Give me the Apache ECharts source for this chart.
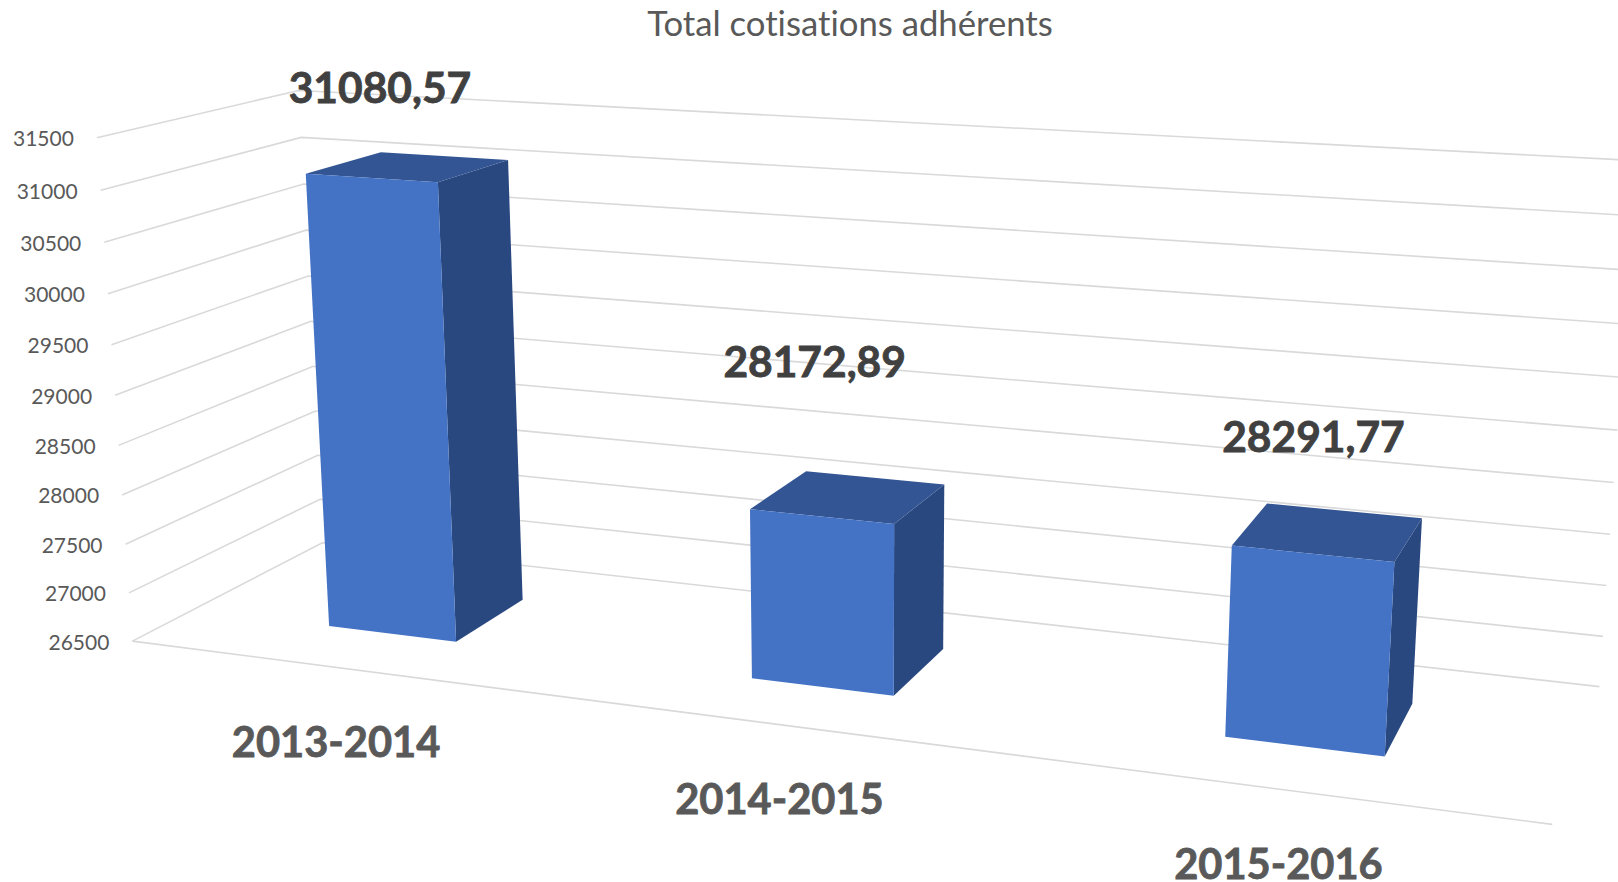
<!DOCTYPE html>
<html>
<head>
<meta charset="utf-8">
<style>html,body{margin:0;padding:0;background:#fff}#chart{width:1618px;height:882px;font-variant-ligatures:none}#chart text{font-variant-ligatures:none}</style>
<script src="https://cdn.jsdelivr.net/npm/echarts@6/dist/echarts.min.js"></script>
</head>
<body>
<div id="chart"></div>
<script>
// ---- data ----
const titleText = 'Total cotisations adhérents';
const categories = ['2013-2014', '2014-2015', '2015-2016'];
const values = [31080.57, 28172.89, 28291.77];
const axisTicks = [26500, 27000, 27500, 28000, 28500, 29000, 29500, 30000, 30500, 31000, 31500];

// ---- layout: a perspective camera applied after the axes' own scales ----
const camera = [
  [1167.19137, 227.83991, -39.94868, 132.39979],
  [49.07743, -34.42313, -509.73908, 641.10373],
  [-0.16277, 0.11777, -0.04588, 1]
];
const barWidthShare = 0.312;
const barDepth = [0.30, 0.70];
const labelOffsets = [[-28.5, -80], [-34, -136], [-15, -96]];
const categoryLabelDrop = 73.5;
const tickLabelGap = 23;
const fontFamily = 'Lato, "Open Sans", sans-serif';
const colors = {front: '#4472C4', top: '#335593', side: '#2A4880', grid: '#D9D9D9',
                tick: '#595959', cat: '#595959', value: '#404040'};
const chartSize = {w: 1618, h: 882};

function project(u, d, h) {
  const c = camera;
  const w = c[2][0] * u + c[2][1] * d + c[2][2] * h + c[2][3];
  return [(c[0][0] * u + c[0][1] * d + c[0][2] * h + c[0][3]) / w,
          (c[1][0] * u + c[1][1] * d + c[1][2] * h + c[1][3]) / w];
}
// axis scales -> unit cube
function unit(api, cat, val) {
  const p = api.coord([cat, val]);
  return [p[0] / chartSize.w, 1 - p[1] / chartSize.h];
}

function renderGrid(params, api) {
  const tick = api.value(1);
  const h = unit(api, 0, tick)[1];
  const front = project(0, 0, h), back = project(0, 1, h), right = project(1, 1, h);
  const lineStyle = {stroke: colors.grid, lineWidth: 1.6, fill: null};
  const kids = [{
    type: 'polyline', shape: {points: [front, back, right]}, style: lineStyle
  }, {
    type: 'text',
    style: {text: String(tick), x: front[0] - tickLabelGap, y: front[1],
      align: 'right', verticalAlign: 'middle', fill: colors.tick,
      font: '21px ' + fontFamily}
  }];
  if (params.dataIndex === 0) {
    kids.push({type: 'polyline', shape: {points: [front, project(1, 0, h)]}, style: lineStyle});
  }
  return {type: 'group', children: kids};
}

function renderBars(params, api) {
  const i = params.dataIndex;
  const val = api.value(1);
  const base = unit(api, i, axisTicks[0]);
  const top = unit(api, i, val);
  const half = api.size([1, 0])[0] / chartSize.w * barWidthShare / 2;
  const u0 = base[0] - half, u1 = base[0] + half;
  const d0 = barDepth[0], d1 = barDepth[1], z0 = base[1], z1 = top[1];
  const anchor = project(base[0], 0.5, z1);
  const floorPoint = project(base[0], 0, z0);
  return {type: 'group', children: [
    {type: 'polygon', shape: {points: [project(u1, d0, z0), project(u1, d1, z0), project(u1, d1, z1), project(u1, d0, z1)]},
      style: {fill: colors.side}},
    {type: 'polygon', shape: {points: [project(u0, d0, z1), project(u1, d0, z1), project(u1, d1, z1), project(u0, d1, z1)]},
      style: {fill: colors.top}},
    {type: 'polygon', shape: {points: [project(u0, d0, z0), project(u1, d0, z0), project(u1, d0, z1), project(u0, d0, z1)]},
      style: {fill: colors.front}},
    {type: 'text', style: {text: String(val).replace('.', ','),
      x: anchor[0] + labelOffsets[i][0], y: anchor[1] + labelOffsets[i][1],
      align: 'center', verticalAlign: 'middle', fill: colors.value,
      stroke: colors.value, lineWidth: 0.8,
      font: 'bold 42.5px ' + fontFamily}},
    {type: 'text', style: {text: categories[i],
      x: floorPoint[0], y: floorPoint[1] + categoryLabelDrop,
      align: 'center', verticalAlign: 'middle', fill: colors.cat,
      stroke: colors.cat, lineWidth: 0.8,
      font: 'bold 41.6px ' + fontFamily}}
  ]};
}

const chart = echarts.init(document.getElementById('chart'), null, {renderer: 'svg'});
chart.setOption({
  animation: false,
  backgroundColor: '#fff',
  title: {text: titleText, left: 845, top: 0, textAlign: 'center',
    textStyle: {color: '#595959', fontSize: 34.7, fontWeight: 'normal', fontFamily: fontFamily}},
  grid: {left: 0, right: 0, top: 0, bottom: 0},
  xAxis: {type: 'category', data: categories, show: false},
  yAxis: {type: 'value', min: axisTicks[0], max: axisTicks[axisTicks.length - 1], interval: 500, show: false},
  series: [
    {type: 'custom', silent: true, z: 1, renderItem: renderGrid, encode: {x: 0, y: 1},
      data: axisTicks.map(t => [0, t])},
    {type: 'custom', silent: true, z: 2, renderItem: renderBars, encode: {x: 0, y: 1},
      data: values.map((v, i) => [i, v])}
  ]
});
</script>
</body>
</html>
